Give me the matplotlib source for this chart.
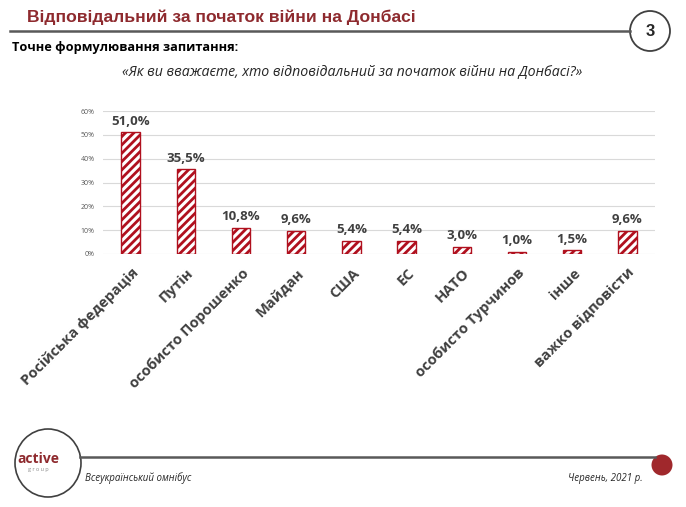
import matplotlib.pyplot as plt
import matplotlib.transforms as mtransforms
from matplotlib.patches import Ellipse
from matplotlib.lines import Line2D
from matplotlib.ticker import FuncFormatter

# data
categories = ["Російська федерація", "Путін", "особисто Порошенко", "Майдан", "США",
              "ЕС", "НАТО", "особисто Турчинов", "інше", "важко відповісти"]
values = [51.0, 35.5, 10.8, 9.6, 5.4, 5.4, 3.0, 1.0, 1.5, 9.6]
yticks = [0, 10, 20, 30, 40, 50, 60]

title = "Відповідальний за початок війни на Донбасі"
subtitle = "Точне формулювання запитання:"
question = "«Як ви вважаєте, хто відповідальний за початок війни на Донбасі?»"
footer_left = "Всеукраїнський омнібус"
footer_right = "Червень, 2021 р."
page_num = "3"

plt.rcParams["font.family"] = ["Open Sans", "DejaVu Sans"]
plt.rcParams["hatch.linewidth"] = 2.0
plt.rcParams["hatch.color"] = "#B0101E"

red = "#B0101E"
dark = "#404040"

fig = plt.figure(figsize=(6.86, 5.07), dpi=100)
W, H = 686, 507

ax = fig.add_axes([103 / W, 1 - 254 / H, 552 / W, 143 / H])
x = range(len(categories))
ax.bar(x, values, width=0.33, color="white", edgecolor=red, hatch="////", linewidth=1.0, zorder=3)
for xi, v in zip(x, values):
    ax.annotate(f"{v:.1f}%".replace(".", ","), (xi, v), xytext=(0, 3.5), textcoords="offset points",
                ha="center", va="bottom", fontsize=9.5, fontweight="bold", color=dark)

ax.set_xlim(-0.5, len(categories) - 0.5)
ax.set_ylim(0, 60)
ax.set_yticks(yticks)
ax.yaxis.set_major_formatter(FuncFormatter(lambda v, p: f"{v:.0f}%"))
ax.grid(axis="y", color="#D9D9D9", linewidth=0.8, zorder=0)
for s in ax.spines.values():
    s.set_visible(False)
ax.tick_params(axis="y", length=0, labelsize=5, labelcolor="#595959", pad=6)
ax.tick_params(axis="x", length=0, pad=12)
ax.set_xticks(list(x))
ax.set_xticklabels(categories, rotation=45, ha="right", va="center", rotation_mode="anchor",
                   fontsize=10.5, fontweight="bold", color=dark)
shift = mtransforms.ScaledTranslation(4 / 72, 0, fig.dpi_scale_trans)
for lbl in ax.get_xticklabels():
    lbl.set_transform(lbl.get_transform() + shift)

# header
fig.text(27 / W, 1 - 17 / H, title, fontsize=12.6, fontweight="bold", color="#8E2A2E",
         family=["Liberation Sans", "DejaVu Sans"], va="center", ha="left")
fig.add_artist(Line2D([10 / W, 630 / W], [1 - 31 / H, 1 - 31 / H], color="#595959", linewidth=1.8))
fig.add_artist(Ellipse((650 / W, 1 - 31 / H), 40 / W, 40 / H, transform=fig.transFigure,
                       facecolor="white", edgecolor="#404040", linewidth=1.3))
fig.text(650 / W, 1 - 31 / H, page_num, fontsize=12, fontweight="bold", color="#262626",
         family=["Liberation Sans", "DejaVu Sans"], ha="center", va="center")
fig.text(12 / W, 1 - 48 / H, subtitle, fontsize=9.2, fontweight="bold", color="black", va="center")
fig.text(352 / W, 1 - 72 / H, question, fontsize=10.2, style="italic", color="#262626",
         ha="center", va="center")

# footer
fig.add_artist(Line2D([80 / W, 655 / W], [1 - 457 / H, 1 - 457 / H], color="#595959", linewidth=1.8))
fig.add_artist(Ellipse((48 / W, 1 - 463 / H), 66 / W, 68 / H, transform=fig.transFigure,
                       facecolor="white", edgecolor="#404040", linewidth=1.2))
fig.add_artist(Ellipse((662 / W, 1 - 465 / H), 21 / W, 21 / H, transform=fig.transFigure,
                       facecolor="#A0282C", edgecolor="none"))
fig.text(38 / W, 1 - 459 / H, "active", fontsize=10, fontweight="bold", color="#8E2A2E",
         ha="center", va="center")
fig.text(38 / W, 1 - 470 / H, "g r o u p", fontsize=4, color="#8C8C8C", ha="center", va="center")
fig.text(85 / W, 1 - 478 / H, footer_left, fontsize=7, style="italic", color="#262626", va="center")
fig.text(643 / W, 1 - 479 / H, footer_right, fontsize=7, style="italic", color="#262626",
         va="center", ha="right")

fig.savefig("out.png", dpi=100)
